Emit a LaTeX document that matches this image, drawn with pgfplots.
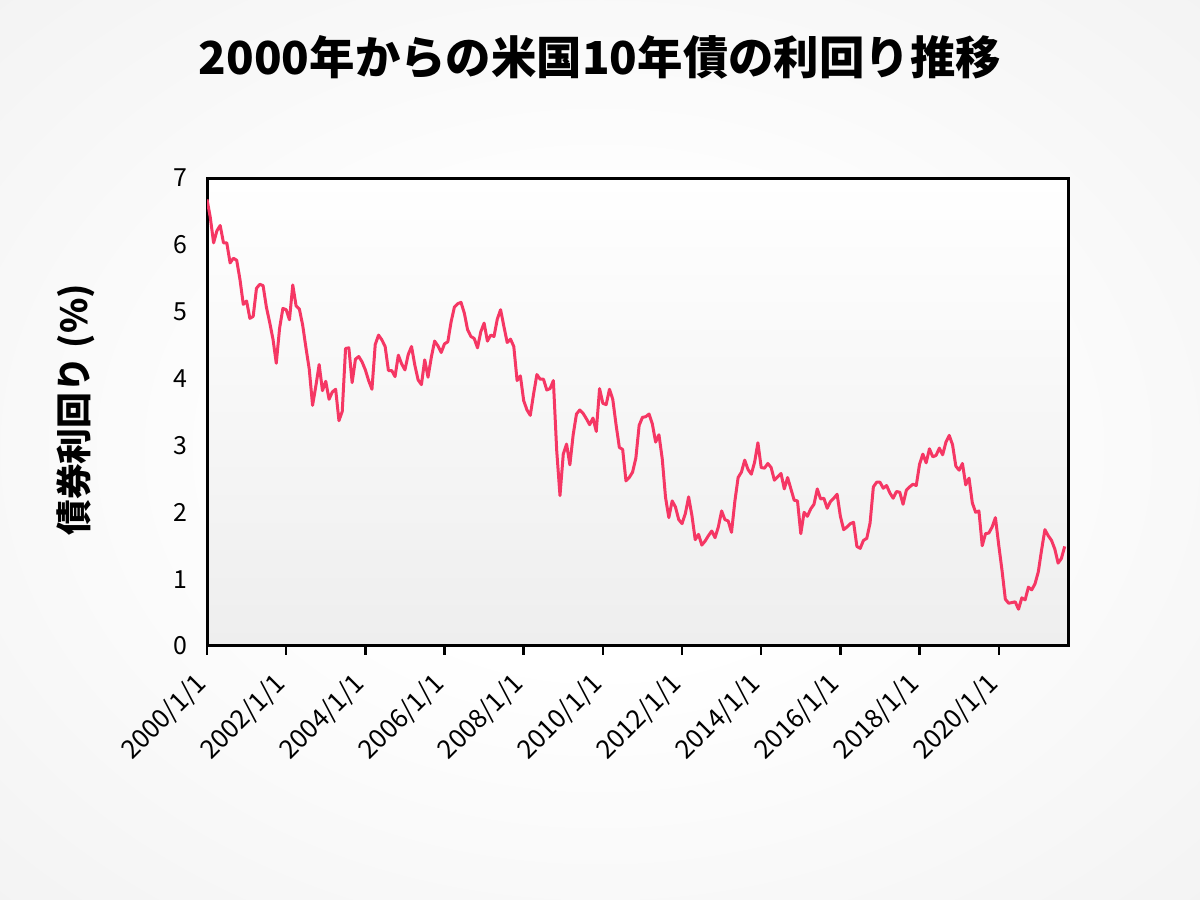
\documentclass[border=0pt]{standalone}
\usepackage{pgfplots}
\pgfplotsset{compat=1.18}
\usepackage{pgfplotstable}
\usepackage{fontspec}
\setmainfont{Noto Sans CJK JP}
\definecolor{linec}{RGB}{245,55,100}
\definecolor{bgout}{RGB}{236,236,236}
\definecolor{plotbot}{RGB}{238,238,238}
\pgfdeclareradialshading{bgshade}{\pgfpoint{0bp}{0bp}}{color(0bp)=(white); color(12bp)=(white); color(50bp)=(bgout)}

\pgfplotstableread{
y
6.68
6.41
6.03
6.21
6.29
6.03
6.03
5.73
5.80
5.77
5.48
5.11
5.16
4.90
4.93
5.35
5.41
5.39
5.07
4.84
4.59
4.23
4.75
5.05
5.03
4.88
5.40
5.09
5.04
4.80
4.46
4.14
3.60
3.89
4.21
3.82
3.96
3.69
3.80
3.84
3.37
3.51
4.45
4.46
3.94
4.29
4.33
4.25
4.13
3.97
3.84
4.51
4.65
4.58
4.48
4.12
4.12
4.03
4.35
4.22
4.13
4.36
4.48
4.20
3.98
3.91
4.28
4.02
4.32
4.56
4.49
4.39
4.52
4.55
4.85
5.07
5.12
5.14
4.98
4.73
4.63
4.60
4.46
4.70
4.83
4.56
4.65
4.63
4.89
5.03
4.78
4.54
4.59
4.48
3.97
4.04
3.67
3.53
3.45
3.77
4.06
3.99
3.99
3.83
3.85
3.97
2.93
2.25
2.87
3.02
2.71
3.16
3.47
3.53
3.48
3.40
3.31
3.41
3.21
3.85
3.63
3.61
3.84
3.69
3.31
2.97
2.94
2.47
2.52
2.60
2.81
3.30
3.42
3.43
3.47
3.32
3.05
3.16
2.80
2.22
1.92
2.17
2.08
1.89
1.83
1.98
2.23
1.95
1.59
1.67
1.51
1.57
1.65
1.72
1.62
1.78
2.02
1.89
1.87
1.70
2.16
2.52
2.60
2.78
2.64
2.57
2.75
3.04
2.67
2.66
2.73
2.67
2.48
2.53
2.58
2.35
2.52
2.35
2.18
2.17
1.68
2.00
1.94
2.05
2.12
2.35
2.20
2.21
2.06
2.16
2.21
2.27
1.94
1.74
1.78
1.83
1.85
1.49
1.46
1.58
1.61
1.84
2.38
2.45
2.45
2.36
2.40
2.29
2.21
2.31
2.30
2.12
2.33
2.38
2.42
2.40
2.72
2.87
2.74
2.95
2.83
2.85
2.96
2.86
3.05
3.15
3.01
2.69
2.63
2.73
2.41
2.51
2.14
2.00
2.02
1.50
1.68
1.69
1.78
1.92
1.51
1.13
0.70
0.64
0.65
0.66
0.55
0.72
0.69
0.88
0.84
0.93
1.11
1.44
1.74
1.65
1.58
1.45
1.24
1.31
1.49
}\yields

\begin{document}
\begin{tikzpicture}
\shade[shading=bgshade] (0bp,0bp) rectangle (600bp,450bp);
\node[anchor=base, font=\bfseries\fontsize{22.8}{26}\selectfont, inner sep=0pt] at (300bp,412.5bp) {2000年からの米国10年債の利回り推移};
\node[rotate=90, font=\bfseries\fontsize{18}{22}\selectfont, inner sep=0pt] at (38bp,245bp) {債券利回り (\%)};
\begin{axis}[
  at={(103.5bp,127bp)}, anchor=south west,
  scale only axis, width=430.5bp, height=234bp,
  xmin=0, xmax=261, ymin=0, ymax=7,
  axis line style={line width=1.5bp, black},
  axis background/.style={top color=white, bottom color=plotbot},
  xtick={0,24,48,72,96,120,144,168,192,216,240},
  xticklabels={2000/1/1,2002/1/1,2004/1/1,2006/1/1,2008/1/1,2010/1/1,2012/1/1,2014/1/1,2016/1/1,2018/1/1,2020/1/1},
  ytick={0,1,2,3,4,5,6,7},
  yticklabels={0,1,2,3,4,5,6,7},
  xtick pos=bottom, ytick pos=left,
  tick align=outside,
  major tick length=4.5bp,
  xtick style={line width=1.2bp, black},
  ytick style={draw=none},
  x tick label style={font=\fontsize{13}{15}\selectfont, rotate=45, anchor=east},
  xticklabel shift=10bp,
  y tick label style={font=\fontsize{12.5}{14}\selectfont},
  yticklabel shift=2bp,
  tick label style={text=black},
  clip=true,
]
\addplot[color=linec, line width=1.5bp, no marks, line join=round] table[x expr=\coordindex, y=y] {\yields};
\end{axis}
\end{tikzpicture}
\end{document}
